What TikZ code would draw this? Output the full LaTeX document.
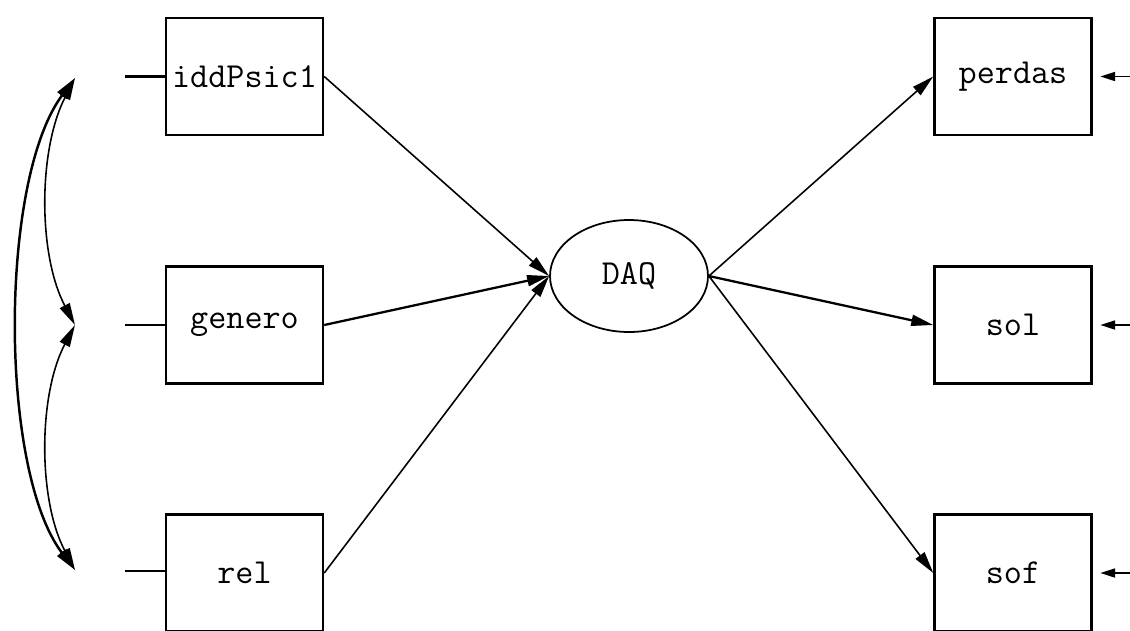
\documentclass[tikz,border=0pt]{standalone}
\usepackage{fontspec}
\usetikzlibrary{arrows.meta,shapes.geometric}
\begin{document}
\begin{tikzpicture}[
  var/.style={draw,line width=1.4pt,minimum width=3.14cm,minimum height=2.34cm,font=\ttfamily\fontsize{20}{22}\selectfont},
  lat/.style={draw,ellipse,line width=1pt,minimum width=3.16cm,minimum height=2.24cm,font=\ttfamily\fontsize{20}{22}\selectfont},
  reg/.style={line width=0.9pt,-{Triangle[length=4.4mm,width=2.2mm]}},
  cov/.style={line width=0.9pt,{Triangle[length=4.4mm,width=2.2mm]}-{Triangle[length=4.4mm,width=2.2mm]}},
  err/.style={line width=1.1pt,-{Triangle[length=3mm,width=1.8mm]},shorten >=1.5mm}]
\useasboundingbox (0,0) rectangle (22.6,-12.6);
\node[var] (idd) at (4.89,-1.53) {iddPsic1};
\node[var] (gen) at (4.89,-6.50) {genero};
\node[var] (rel) at (4.89,-11.46) {rel};
\node[lat] (daq) at (12.58,-5.52) {DAQ};
\node[var] (per) at (20.26,-1.53) {perdas};
\node[var] (sol) at (20.26,-6.50) {sol};
\node[var] (sof) at (20.26,-11.46) {sof};
% covariances
\coordinate (c1) at (1.50,-1.56);
\coordinate (c2) at (1.50,-6.50);
\coordinate (c3) at (1.50,-11.40);
\draw[cov,line width=1.4pt] (c1) .. controls (-0.02,-3.6) and (-0.02,-9.4) .. (c3);
\draw[cov] (c1) .. controls (0.76,-3.0) and (0.76,-5.1) .. (c2);
\draw[cov] (c2) .. controls (0.76,-7.9) and (0.76,-10.0) .. (c3);
\draw[line width=1.2pt] (2.50,-1.53) -- (idd.west);
\draw[line width=1.2pt] (2.50,-6.50) -- (gen.west);
\draw[line width=1.2pt] (2.50,-11.42) -- (rel.west|-0,-11.42);
% regressions
\draw[reg] (idd.east) -- (daq.west);
\draw[reg,line width=1.3pt] (gen.east) -- (daq.west);
\draw[reg] (rel.east) -- (daq.west);
\draw[reg] (daq.east) -- (per.west);
\draw[reg,line width=1.3pt] (daq.east) -- (sol.west);
\draw[reg] (daq.east) -- (sof.west);
% errors
\coordinate (e1) at (22.7,-1.53);
\coordinate (e2) at (22.7,-6.50);
\coordinate (e3) at (22.7,-11.46);
\draw[err] (e1) -- (per.east);
\draw[err] (e2) -- (sol.east);
\draw[err] (e3) -- (sof.east);
\end{tikzpicture}
\end{document}
